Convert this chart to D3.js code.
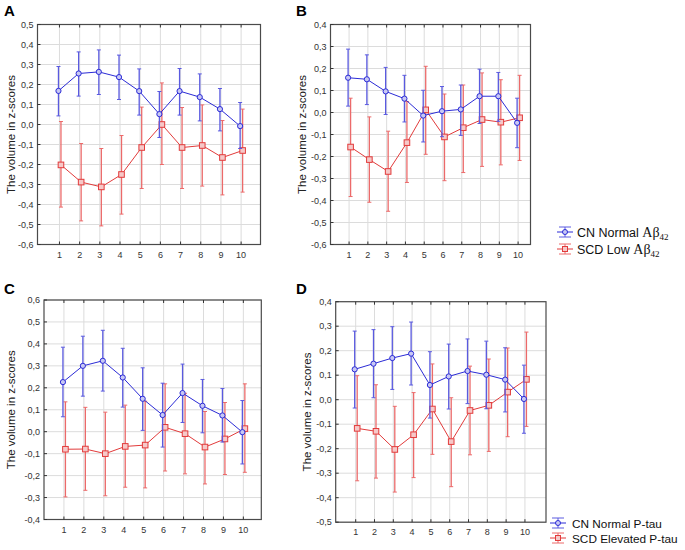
<!DOCTYPE html>
<html><head><meta charset="utf-8">
<script src="https://cdn.jsdelivr.net/npm/d3@7"></script>
<style>body{margin:0;background:#fff}svg{display:block}</style>
</head><body>
<script>
const categories = [1,2,3,4,5,6,7,8,9,10];

// Panel A
const aBlueMean = [0.168,0.255,0.263,0.237,0.167,0.052,0.167,0.137,0.077,-0.008];
const aBlueHi   = [0.290,0.363,0.373,0.347,0.278,0.165,0.280,0.253,0.180,0.110];
const aBlueLo   = [0.043,0.142,0.150,0.125,0.047,-0.065,0.047,0.018,-0.032,-0.120];
const aRedMean  = [-0.202,-0.288,-0.312,-0.250,-0.115,0.000,-0.115,-0.105,-0.165,-0.130];
const aRedHi    = [0.015,-0.095,-0.120,-0.055,0.087,0.208,0.085,0.098,0.020,0.077];
const aRedLo    = [-0.413,-0.482,-0.507,-0.448,-0.320,-0.200,-0.320,-0.308,-0.352,-0.338];
// Panel B
const bBlueMean = [0.158,0.151,0.096,0.063,-0.014,0.006,0.014,0.074,0.074,-0.047];
const bBlueHi   = [0.288,0.262,0.205,0.169,0.101,0.118,0.125,0.197,0.182,0.065];
const bBlueLo   = [0.029,0.036,-0.009,-0.043,-0.134,-0.110,-0.104,-0.050,-0.040,-0.160];
const bRedMean  = [-0.157,-0.214,-0.268,-0.137,0.012,-0.111,-0.069,-0.032,-0.044,-0.024];
const bRedHi    = [0.065,-0.020,-0.085,0.050,0.210,0.084,0.125,0.180,0.149,0.169];
const bRedLo    = [-0.382,-0.408,-0.449,-0.318,-0.190,-0.310,-0.273,-0.245,-0.238,-0.218];
// Panel C
const cBlueMean = [0.226,0.300,0.323,0.247,0.150,0.076,0.176,0.118,0.074,-0.002];
const cBlueHi   = [0.385,0.435,0.462,0.380,0.291,0.221,0.308,0.238,0.197,0.142];
const cBlueLo   = [0.068,0.162,0.185,0.112,0.006,-0.070,0.042,-0.005,-0.047,-0.147];
const cRedMean  = [-0.080,-0.079,-0.100,-0.067,-0.061,0.020,-0.009,-0.070,-0.033,0.014];
const cRedHi    = [0.136,0.111,0.089,0.121,0.139,0.218,0.175,0.092,0.133,0.218];
const cRedLo    = [-0.297,-0.267,-0.292,-0.253,-0.256,-0.179,-0.192,-0.238,-0.195,-0.185];
// Panel D
const dBlueMean = [0.124,0.147,0.170,0.188,0.060,0.095,0.117,0.102,0.082,0.003];
const dBlueHi   = [0.280,0.286,0.298,0.317,0.196,0.227,0.248,0.239,0.212,0.141];
const dBlueLo   = [-0.034,0.008,0.042,0.060,-0.075,-0.038,-0.016,-0.037,-0.050,-0.137];
const dRedMean  = [-0.117,-0.129,-0.203,-0.143,-0.038,-0.171,-0.044,-0.023,0.031,0.083];
const dRedHi    = [0.098,0.061,-0.027,0.029,0.146,0.008,0.137,0.166,0.211,0.276];
const dRedLo    = [-0.331,-0.320,-0.377,-0.318,-0.223,-0.355,-0.225,-0.211,-0.151,-0.109];

const yTicksA = [0.5,0.4,0.3,0.2,0.1,0,-0.1,-0.2,-0.3,-0.4,-0.5,-0.6];
const yTicksB = [0.4,0.3,0.2,0.1,0,-0.1,-0.2,-0.3,-0.4,-0.5,-0.6];
const yTicksC = [0.6,0.5,0.4,0.3,0.2,0.1,0,-0.1,-0.2,-0.3,-0.4];
const yTicksD = [0.4,0.3,0.2,0.1,0,-0.1,-0.2,-0.3,-0.4,-0.5];

const yTitle = "The volume in z-scores";
const legend1 = ["CN Normal ", "SCD Low "];
const legend2 = ["CN Normal P-tau", "SCD Elevated P-tau"];

const BLUE = "#2b2bd6", RED = "#e23b3b";
const BLUE_ERR = "#5a5ae0", RED_ERR = "#ec6a6a";

const svg = d3.select("body").append("svg").attr("width",685).attr("height",550)
  .style("font-family","Arial, 'Liberation Sans', sans-serif");

const fmt = v => d3.format(".1f")(v).replace(".", ",").replace("−","-");

function panel(cfg){
  const g = svg.append("g");
  const x = d3.scaleLinear().domain(cfg.xd).range([cfg.l, cfg.r]);
  const y = d3.scaleLinear().domain(cfg.yd).range([cfg.b, cfg.t]);
  g.selectAll(".gx").data(categories).enter().append("line")
    .attr("x1",d=>x(d)).attr("x2",d=>x(d)).attr("y1",cfg.t).attr("y2",cfg.b)
    .attr("stroke","#dcdcdc").attr("stroke-width",1);
  g.selectAll(".gy").data(cfg.yt).enter().append("line")
    .attr("x1",cfg.l).attr("x2",cfg.r).attr("y1",d=>y(d)).attr("y2",d=>y(d))
    .attr("stroke","#dcdcdc").attr("stroke-width",1);
  g.append("rect").attr("x",cfg.l).attr("y",cfg.t).attr("width",cfg.r-cfg.l).attr("height",cfg.b-cfg.t)
    .attr("fill","none").attr("stroke","#4a4a4a").attr("stroke-width",1.2);
  g.selectAll(".tt").data(categories).enter().append("line")
    .attr("x1",d=>x(d)).attr("x2",d=>x(d)).attr("y1",cfg.t).attr("y2",cfg.t+3).attr("stroke","#333");
  g.selectAll(".tb").data(categories).enter().append("line")
    .attr("x1",d=>x(d)).attr("x2",d=>x(d)).attr("y1",cfg.b).attr("y2",cfg.b-3).attr("stroke","#333");
  g.selectAll(".tl").data(cfg.yt).enter().append("line")
    .attr("x1",cfg.l).attr("x2",cfg.l+3).attr("y1",d=>y(d)).attr("y2",d=>y(d)).attr("stroke","#333");
  g.selectAll(".yl").data(cfg.yt).enter().append("text")
    .attr("x",cfg.l-4).attr("y",d=>y(d)+3).attr("text-anchor","end")
    .attr("font-size",9).attr("fill","#333").text(d=>fmt(d));
  g.selectAll(".xl").data(categories).enter().append("text")
    .attr("x",d=>x(d)).attr("y",cfg.b+13).attr("text-anchor","middle")
    .attr("font-size",9).attr("fill","#333").text(d=>d);
  g.append("text").attr("transform",`translate(${cfg.titleX},${(cfg.t+cfg.b)/2}) rotate(-90)`)
    .attr("text-anchor","middle").attr("font-size",11.5).attr("fill","#222").text(yTitle);
  g.append("text").attr("x",cfg.letterX).attr("y",cfg.letterY).attr("font-weight","bold")
    .attr("font-size",15).attr("fill","#000").text(cfg.letter);

  function series(mean, hi, lo, dx, color, ecolor, shape){
    const pts = categories.map((c,i)=>({c, m:mean[i], h:hi[i], l:lo[i]}));
    const X = d => x(d.c)+dx;
    g.selectAll(null).data(pts).enter().append("line")
      .attr("x1",X).attr("x2",X).attr("y1",d=>y(d.h)).attr("y2",d=>y(d.l))
      .attr("stroke",ecolor).attr("stroke-width",1.3);
    g.selectAll(null).data(pts).enter().append("line")
      .attr("x1",d=>X(d)-2).attr("x2",d=>X(d)+2).attr("y1",d=>y(d.h)).attr("y2",d=>y(d.h))
      .attr("stroke",ecolor).attr("stroke-width",1);
    g.selectAll(null).data(pts).enter().append("line")
      .attr("x1",d=>X(d)-2).attr("x2",d=>X(d)+2).attr("y1",d=>y(d.l)).attr("y2",d=>y(d.l))
      .attr("stroke",ecolor).attr("stroke-width",1);
    g.append("path").datum(pts)
      .attr("d", d3.line().x(X).y(d=>y(d.m)))
      .attr("fill","none").attr("stroke",color).attr("stroke-width",1);
    if(shape==="circle"){
      g.selectAll(null).data(pts).enter().append("circle")
        .attr("cx",X).attr("cy",d=>y(d.m)).attr("r",2.6)
        .attr("fill","#c8c8f4").attr("stroke",color).attr("stroke-width",1);
    } else {
      g.selectAll(null).data(pts).enter().append("rect")
        .attr("x",d=>X(d)-2.8).attr("y",d=>y(d.m)-2.8).attr("width",5.6).attr("height",5.6)
        .attr("fill","#f6c8c8").attr("stroke",color).attr("stroke-width",1);
    }
  }
  series(cfg.rm, cfg.rh, cfg.rl, 1.5, RED, RED_ERR, "square");
  series(cfg.bm, cfg.bh, cfg.bl, -1, BLUE, BLUE_ERR, "circle");
}

panel({l:37.5,r:260.5,t:24.5,b:244.5,xd:[-0.088,10.96],yd:[-0.6,0.5],yt:yTicksA,
  titleX:15,letter:"A",letterX:4,letterY:16,
  bm:aBlueMean,bh:aBlueHi,bl:aBlueLo,rm:aRedMean,rh:aRedHi,rl:aRedLo});
panel({l:330.5,r:530.5,t:24.5,b:244.5,xd:[0.01,10.66],yd:[-0.6,0.4],yt:yTicksB,
  titleX:306,letter:"B",letterX:296,letterY:16,
  bm:bBlueMean,bh:bBlueHi,bl:bBlueLo,rm:bRedMean,rh:bRedHi,rl:bRedLo});
panel({l:44,r:261.3,t:300,b:519.5,xd:[0,10.9],yd:[-0.4,0.6],yt:yTicksC,
  titleX:15,letter:"C",letterX:4,letterY:294,
  bm:cBlueMean,bh:cBlueHi,bl:cBlueLo,rm:cRedMean,rh:cRedHi,rl:cRedLo});
panel({l:335.7,r:546,t:301.7,b:522.2,xd:[-0.063,11.12],yd:[-0.5,0.4],yt:yTicksD,
  titleX:311,letter:"D",letterX:296,letterY:294,
  bm:dBlueMean,bh:dBlueHi,bl:dBlueLo,rm:dRedMean,rh:dRedHi,rl:dRedLo});

function legendSym(g, cx, cy, color, ecolor, shape){
  g.append("line").attr("x1",cx-8).attr("x2",cx+8).attr("y1",cy).attr("y2",cy).attr("stroke",color);
  g.append("line").attr("x1",cx-6).attr("x2",cx+6).attr("y1",cy-5).attr("y2",cy-5).attr("stroke",ecolor);
  g.append("line").attr("x1",cx-6).attr("x2",cx+6).attr("y1",cy+5).attr("y2",cy+5).attr("stroke",ecolor);
  g.append("line").attr("x1",cx).attr("x2",cx).attr("y1",cy-5).attr("y2",cy+5).attr("stroke",ecolor);
  if(shape==="circle") g.append("circle").attr("cx",cx).attr("cy",cy).attr("r",2.5).attr("fill","#c8c8f4").attr("stroke",color);
  else g.append("rect").attr("x",cx-2.5).attr("y",cy-2.5).attr("width",5).attr("height",5).attr("fill","#f6c8c8").attr("stroke",color);
}
const lg1 = svg.append("g");
[[legend1[0],232,BLUE,BLUE_ERR,"circle"],[legend1[1],249,RED,RED_ERR,"square"]].forEach(([t,yy,c,e,s])=>{
  legendSym(lg1, 565, yy, c, e, s);
  const tx = lg1.append("text").attr("x",577).attr("y",yy+5).attr("font-size",12.5).attr("fill","#111");
  tx.append("tspan").text(t);
  tx.append("tspan").attr("font-family","'Liberation Serif','DejaVu Serif',serif").attr("font-size",14).text("Aβ");
  tx.append("tspan").attr("font-family","'Liberation Serif','DejaVu Serif',serif").attr("font-size",9).attr("dy",3).text("42");
});
const lg2 = svg.append("g");
[[legend2[0],523,BLUE,BLUE_ERR,"circle"],[legend2[1],538,RED,RED_ERR,"square"]].forEach(([t,yy,c,e,s])=>{
  legendSym(lg2, 558, yy, c, e, s);
  lg2.append("text").attr("x",572).attr("y",yy+4.5).attr("font-size",11.8).attr("fill","#111").text(t);
});
</script>
</body></html>
